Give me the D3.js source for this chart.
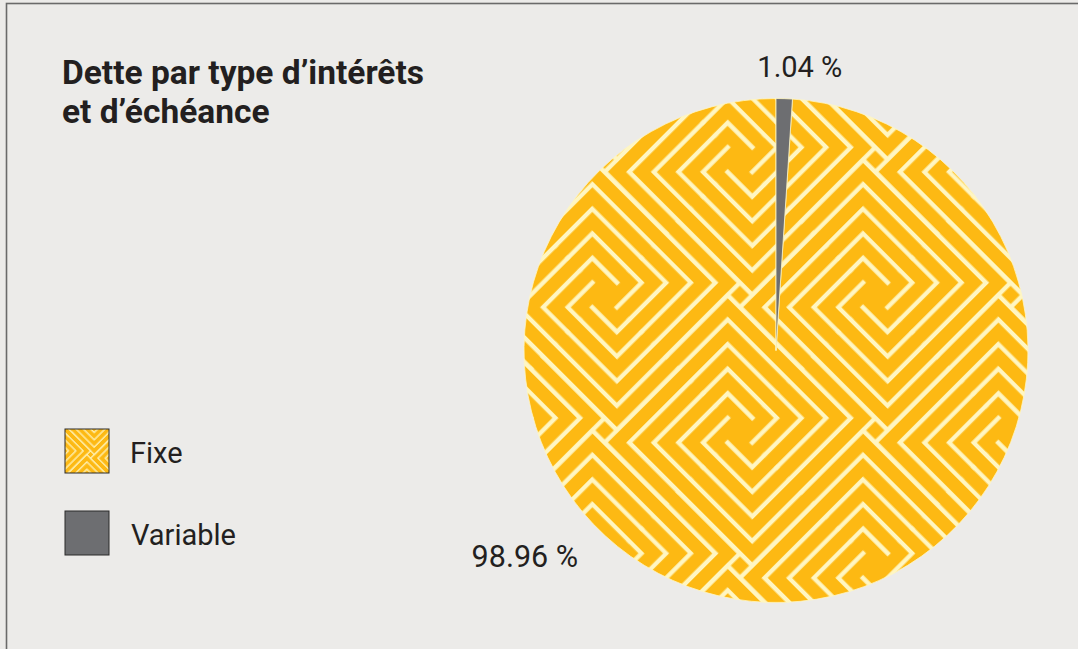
<!DOCTYPE html>
<html>
<head>
<meta charset="utf-8">
<script src="https://cdn.jsdelivr.net/npm/d3@7"></script>
<style>
  html, body { margin: 0; padding: 0; background: #ecebe9; }
  svg { display: block; }
</style>
</head>
<body>
<svg width="1078" height="649"></svg>
<script>
const categories = ["Fixe", "Variable"];
const values = [98.96, 1.04];
const valueLabels = ["98.96 %", "1.04 %"];
const titleLines = ["Dette par type d’intérêts", "et d’échéance"];

const svg = d3.select("svg");
const width = 1078, height = 649;

const orange = "#fdb913";
const pale = "#fff6c2";
const grey = "#6d6e71";
const ink = "#231f20";

// cadre
svg.append("rect")
    .attr("x", 6.5).attr("y", 3.5)
    .attr("width", width + 20).attr("height", height + 20)
    .attr("fill", "#ecebe9")
    .attr("stroke", "#6a6a6a")
    .attr("stroke-width", 1.6);

// motif labyrinthe : rectangles en moulinet remplis de L imbriqués
const defs = svg.append("defs");
const a = 6, b = 5, S = a + b;

function wallSegments() {
    const segs = [];
    for (let k = 0; k < b; k++) {
        segs.push([[0, b - k], [a - k, b - k], [a - k, 0]]);
    }
    const rot = ([u, v]) => [S - v, u];
    const all = [];
    segs.forEach(s => {
        let cur = s;
        for (let r = 0; r < 4; r++) {
            all.push(cur);
            cur = cur.map(rot);
        }
    });
    return all;
}

function makePattern(id, unit, ox, oy) {
    const tile = S * unit;
    const p = defs.append("pattern")
        .attr("id", id)
        .attr("patternUnits", "userSpaceOnUse")
        .attr("width", tile).attr("height", tile)
        .attr("patternTransform", `translate(${ox},${oy}) rotate(45)`);
    p.append("rect").attr("width", tile).attr("height", tile).attr("fill", orange);
    const line = d3.line().x(d => d[0] * unit).y(d => d[1] * unit);
    const segs = wallSegments();
    for (let dx = -1; dx <= 1; dx++) {
        for (let dy = -1; dy <= 1; dy++) {
            p.selectAll(null)
                .data(segs)
                .join("path")
                .attr("d", s => line(s.map(([u, v]) => [u + dx * S, v + dy * S])))
                .attr("fill", "none")
                .attr("stroke", pale)
                .attr("stroke-width", unit * 0.25)
                .attr("stroke-linecap", "square")
                .attr("stroke-linejoin", "miter");
        }
    }
}

const cx = 776, cy = 350.5, radius = 252;
makePattern("maze", 17.4, cx, cy);
makePattern("mazeSmall", 5.2, 66, 430);

const fills = ["url(#maze)", grey];

// camembert
const pie = d3.pie()
    .value(i => values[i])
    .sort((i, j) => values[i] - values[j]);
const arcs = pie(d3.range(categories.length));

const arc = d3.arc().innerRadius(0).outerRadius(radius);

const g = svg.append("g").attr("transform", `translate(${cx},${cy})`);
g.selectAll("path")
    .data(arcs)
    .join("path")
    .attr("d", arc)
    .attr("fill", d => fills[d.data])
    .attr("stroke", pale)
    .attr("stroke-width", 0.8);

// étiquettes de valeurs
const labelPlace = [{ angle: 230.6, r: 325 }, { angle: 4.8, r: 285 }];
g.selectAll("text.val")
    .data(arcs)
    .join("text")
    .attr("class", "val")
    .attr("x", d => Math.sin(labelPlace[d.data].angle * Math.PI / 180) * labelPlace[d.data].r)
    .attr("y", d => -Math.cos(labelPlace[d.data].angle * Math.PI / 180) * labelPlace[d.data].r)
    .attr("text-anchor", "middle")
    .attr("dominant-baseline", "central")
    .style("font-family", "Roboto, sans-serif")
    .style("font-size", d => d.data === 0 ? "30.5px" : "29px")
    .attr("fill", ink)
    .text(d => valueLabels[d.data]);

// titre
svg.append("text")
    .attr("x", 62).attr("y", 84)
    .style("font-family", "Roboto, sans-serif")
    .style("font-weight", "700")
    .style("font-size", "33.5px")
    .attr("fill", ink)
    .selectAll("tspan")
    .data(titleLines)
    .join("tspan")
    .attr("x", 62)
    .attr("dy", (d, i) => i === 0 ? 0 : 39)
    .text(d => d);

// légende
const legend = svg.append("g").attr("transform", "translate(65,429)");
const legendFills = ["url(#mazeSmall)", grey];
const item = legend.selectAll("g")
    .data(categories)
    .join("g")
    .attr("transform", (d, i) => `translate(0,${i * 82})`);
item.append("rect")
    .attr("width", 44).attr("height", 44)
    .attr("fill", (d, i) => legendFills[i])
    .attr("stroke", "#2a2a2a")
    .attr("stroke-width", 1);
item.append("text")
    .attr("x", (d, i) => i === 0 ? 65 : 66)
    .attr("y", 34)
    .style("font-family", "Roboto, sans-serif")
    .style("font-size", "29px")
    .attr("fill", ink)
    .text(d => d);
</script>
</body>
</html>
